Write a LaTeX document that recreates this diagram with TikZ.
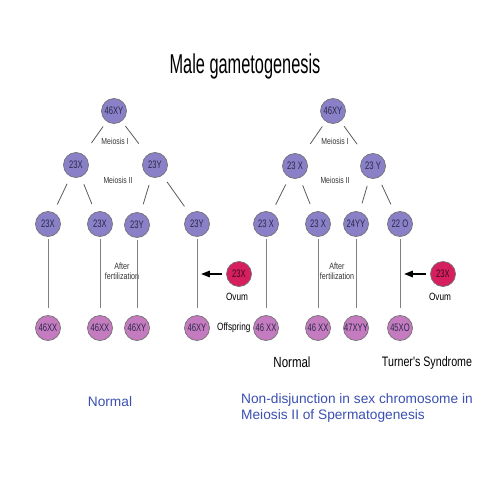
\documentclass[tikz,border=0pt]{standalone}
\usepackage{fontspec}
\setmainfont{Liberation Sans}
\newfontfamily\condfont[FakeStretch=0.78]{Liberation Sans}
\newfontfamily\cellfont[FakeStretch=0.7]{Liberation Sans}
\newfontfamily\titlefont[FakeStretch=0.6]{Liberation Sans}
\usetikzlibrary{arrows.meta}
\definecolor{cellpurple}{HTML}{8A80C8}
\definecolor{cellpink}{HTML}{C47BBF}
\definecolor{ovumred}{HTML}{D61F5E}
\definecolor{noteblue}{HTML}{3A4FB0}
\definecolor{celltext}{HTML}{2A2A48}
\tikzset{
  sperm/.style={
    circle, draw=black!55, line width=0.4pt, fill=cellpurple,
    minimum size=0.5cm, inner sep=0pt, text=celltext,
    font=\cellfont\fontsize{6.2}{6.5}\selectfont
  },
  zygote/.style={sperm, fill=cellpink},
  egg/.style={sperm, fill=ovumred, text=black!70!ovumred},
  meiosislabel/.style={font=\condfont\fontsize{5}{5.4}\selectfont, text=black!80},
  fertlabel/.style={align=center, font=\condfont\fontsize{5.2}{5.8}\selectfont, text=black!80},
  eggname/.style={font=\condfont\fontsize{6}{7}\selectfont},
  resultlabel/.style={font=\condfont\fontsize{8.4}{9}\selectfont},
  caption/.style={font=\fontsize{7.8}{9.6}\selectfont, text=noteblue, align=left},
  divide/.style={draw=black!65, line width=0.45pt, shorten <=3.4pt, shorten >=8pt},
  divide2/.style={draw=black!65, line width=0.45pt, shorten <=4.5pt, shorten >=5pt},
  fuse/.style={draw=black!50, line width=0.45pt, shorten <=1pt, shorten >=4pt},
  arrow/.style={line width=1pt, -{Triangle[length=5pt,width=3.6pt]}, shorten <=2.5pt},
}
\begin{document}
\begin{tikzpicture}[x=0.02cm, y=-0.02cm]
  \useasboundingbox (0,0) rectangle (500,500);
  \node (title) [font=\titlefont\fontsize{15.5}{17}\selectfont] at (245,66) {Male gametogenesis};

  % normal meiosis
  \node (lroot) [sperm] at (114,111) {46XY};
  \node (lx)    [sperm] at (76,165)  {23X};
  \node (ly)    [sperm] at (155,165) {23Y};
  \node (lx1)   [sperm] at (48,224)  {23X};
  \node (lx2)   [sperm] at (100,224) {23X};
  \node (ly1)   [sperm] at (137,225) {23Y};
  \node (ly2)   [sperm] at (197,224) {23Y};
  \node (lo1)   [zygote] at (48,328)  {46XX};
  \node (lo2)   [zygote] at (100,328) {46XX};
  \node (lo3)   [zygote] at (137,328) {46XY};
  \node (lo4)   [zygote] at (197,328) {46XY};
  \node (lovum) [egg] at (239,274) {23X};
  \coordinate (lhit) at (201,274);

  \node (lmeio1) [meiosislabel] at (115,141) {Meiosis I};
  \node (lmeio2) [meiosislabel] at (118,180) {Meiosis II};
  \node (lfert)  [fertlabel] at (122,271) {After\\fertilization};
  \node (lovumt) [eggname] at (237,297) {Ovum};
  \node (offspr) [eggname, anchor=west] at (211,328) {Offspring};

  \draw [divide]  (lroot) -- (lx);
  \draw [divide]  (lroot) -- (ly);
  \draw [divide2] (lx) -- (lx1);
  \draw [divide2] (lx) -- (lx2);
  \draw [divide2] (ly) -- (ly1);
  \draw [divide2] (ly) -- (ly2);
  \draw [fuse] (lx1) -- (lo1);
  \draw [fuse] (lx2) -- (lo2);
  \draw [fuse] (ly1) -- (lo3);
  \draw [fuse] (ly2) -- (lo4);
  \draw [arrow] (lovum) -- (lhit);

  % non-disjunction
  \node (rroot) [sperm] at (333,111) {46XY};
  \node (rx)    [sperm] at (295,166) {23 X};
  \node (ry)    [sperm] at (373,166) {23 Y};
  \node (rx1)   [sperm] at (266,224) {23 X};
  \node (rx2)   [sperm] at (318,224) {23 X};
  \node (ryy)   [sperm] at (356,224) {24YY};
  \node (ro)    [sperm] at (400,224) {22 O};
  \node (ro1)   [zygote] at (266,328) {46 XX};
  \node (ro2)   [zygote] at (318,328) {46 XX};
  \node (ro3)   [zygote] at (356,328) {47XYY};
  \node (ro4)   [zygote] at (400,328) {45XO};
  \node (rovum) [egg] at (443,274) {23X};
  \coordinate (rhit) at (404,274);

  \node (rmeio1) [meiosislabel] at (335,141) {Meiosis I};
  \node (rmeio2) [meiosislabel] at (335,180) {Meiosis II};
  \node (rfert)  [fertlabel] at (337,271) {After\\fertilization};
  \node (rovumt) [eggname] at (440,297) {Ovum};

  \draw [divide]  (rroot) -- (rx);
  \draw [divide]  (rroot) -- (ry);
  \draw [divide2] (rx) -- (rx1);
  \draw [divide2] (rx) -- (rx2);
  \draw [divide2] (ry) -- (ryy);
  \draw [divide2] (ry) -- (ro);
  \draw [fuse] (rx1) -- (ro1);
  \draw [fuse] (rx2) -- (ro2);
  \draw [fuse] (ryy) -- (ro3);
  \draw [fuse] (ro) -- (ro4);
  \draw [arrow] (rovum) -- (rhit);

  \node (normal)  [resultlabel] at (292,362) {Normal};
  \node (turner)  [resultlabel, font=\condfont\fontsize{7.8}{9}\selectfont] at (427,363) {Turner's Syndrome};

  \node (capl) [caption] at (110,402) {Normal};
  \node (capr) [caption, anchor=west] at (235,408) {Non-disjunction in sex chromosome in\\Meiosis II of Spermatogenesis};
\end{tikzpicture}
\end{document}
